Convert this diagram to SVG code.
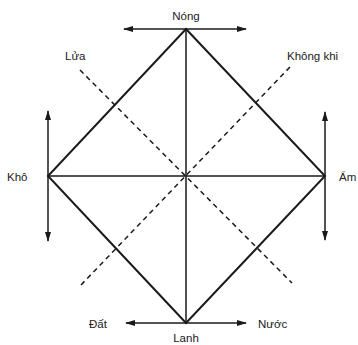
<svg xmlns="http://www.w3.org/2000/svg" width="358" height="345" viewBox="0 0 358 345">
<style>
.t{font-family:"Liberation Sans",Arial,sans-serif;font-size:11.5px;fill:#222}
.s{stroke:#1a1a1a;stroke-width:2;fill:none}
.a{stroke:#1a1a1a;stroke-width:1.5;fill:none}
.d{stroke:#1a1a1a;stroke-width:1.5;stroke-dasharray:5,4;fill:none}
</style>
<defs>
<marker id="ah" viewBox="0 0 10 6" refX="9" refY="3" markerWidth="10" markerHeight="6" markerUnits="userSpaceOnUse" orient="auto-start-reverse">
<path d="M0,0 L10,3 L0,6 z" fill="#1a1a1a"/>
</marker>
</defs>
<rect width="358" height="345" fill="#fff"/>
<g id="connectors">
<path class="s" d="M186,29 L325,176 L186,323 L48,176 Z"/>
<line class="a" x1="48" y1="176" x2="325" y2="176"/>
<line class="a" x1="186" y1="29" x2="186" y2="323"/>
<line class="d" x1="80" y1="70" x2="292" y2="283"/>
<line class="d" x1="290" y1="67" x2="81" y2="285"/>
<line class="a" x1="124" y1="29" x2="246" y2="29" marker-start="url(#ah)" marker-end="url(#ah)"/>
<line class="a" x1="126" y1="323" x2="246" y2="323" marker-start="url(#ah)" marker-end="url(#ah)"/>
<line class="a" x1="48" y1="111" x2="48" y2="241" marker-start="url(#ah)" marker-end="url(#ah)"/>
<line class="a" x1="325" y1="112" x2="325" y2="240" marker-start="url(#ah)" marker-end="url(#ah)"/>
</g>
<g id="nong"><text class="t" x="186" y="20" text-anchor="middle">Nóng</text></g>
<g id="lanh"><text class="t" x="186" y="342" text-anchor="middle">Lanh</text></g>
<g id="kho"><text class="t" x="7" y="181">Khô</text></g>
<g id="am"><text class="t" x="339" y="181">Ẩm</text></g>
<g id="lua"><text class="t" x="65" y="60">Lửa</text></g>
<g id="khongkhi"><text class="t" x="287" y="60">Không khi</text></g>
<g id="dat"><text class="t" x="89" y="328">Đất</text></g>
<g id="nuoc"><text class="t" x="258" y="328">Nước</text></g>
</svg>
